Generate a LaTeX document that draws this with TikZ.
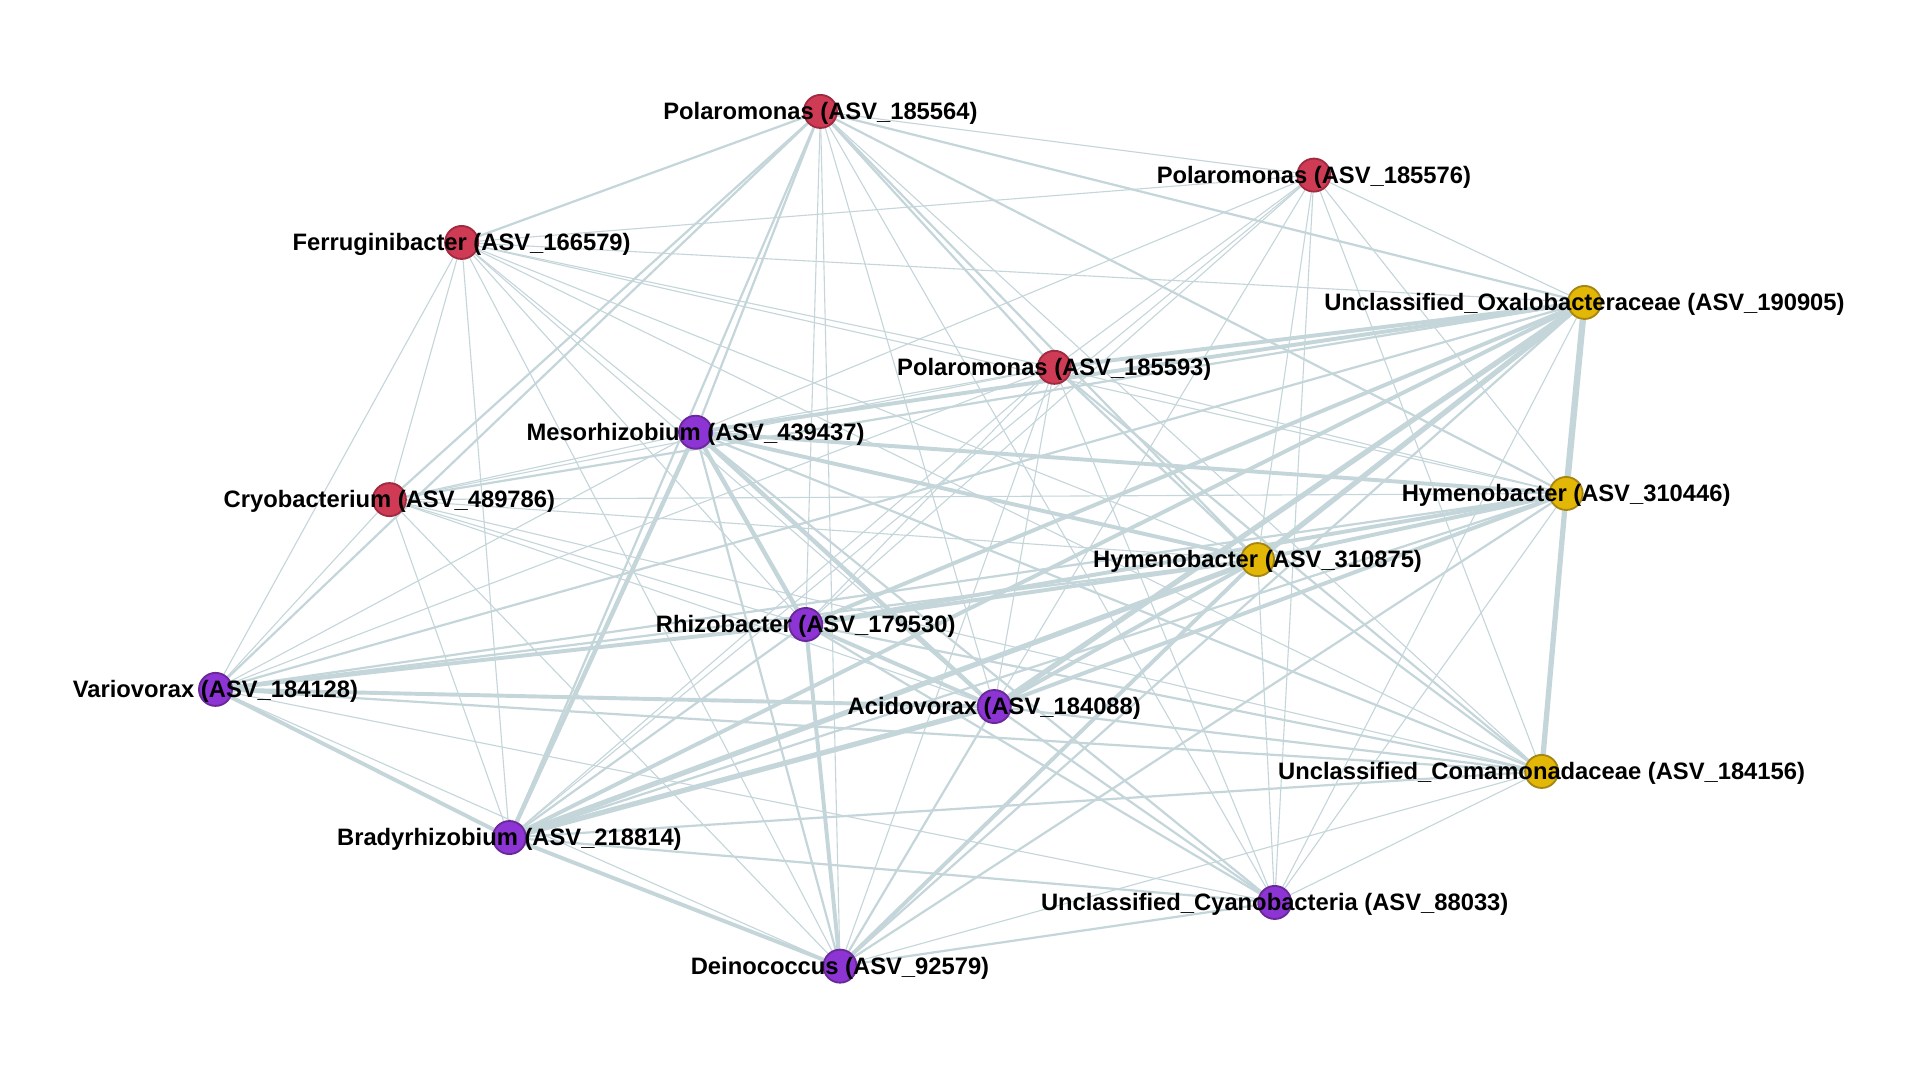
\documentclass[tikz,border=0pt]{standalone}
\usepackage{fontspec}
\setmainfont{Liberation Sans}
\pgfdeclarelayer{bgfill}
\pgfdeclarelayer{bg}
\pgfsetlayers{bgfill,bg,main}
\definecolor{edgec}{HTML}{C4D6DA}
\definecolor{redf}{HTML}{CF3B55}
\definecolor{redd}{HTML}{A02B40}
\definecolor{purf}{HTML}{8C34D4}
\definecolor{purd}{HTML}{6A2898}
\definecolor{yelf}{HTML}{E2B705}
\definecolor{yeld}{HTML}{A58615}
\tikzset{
  vtx/.style={circle,minimum size=27pt,inner sep=0pt,line width=1.5pt},
  rednode/.style={vtx,fill=redf,draw=redd},
  purnode/.style={vtx,fill=purf,draw=purd},
  yelnode/.style={vtx,fill=yelf,draw=yeld},
  lbl/.style={font=\bfseries\fontsize{19.4}{22}\selectfont,text=black,inner sep=0pt,yshift=-1.5pt},
  edge/.style={draw=edgec}
}
\begin{document}
\begin{tikzpicture}[x=1pt,y=-1pt]
\useasboundingbox (0,0) rectangle (1568,882);
\begin{pgfonlayer}{bgfill}
\fill[white] (0,0) rectangle (1568,882);
\end{pgfonlayer}
% nodes
\node[rednode] (a) at (670,91) {};
\node[rednode] (b) at (1073,143) {};
\node[rednode] (c) at (377,198) {};
\node[yelnode] (d) at (1294,247) {};
\node[rednode] (e) at (861,300) {};
\node[purnode] (f) at (568,353) {};
\node[rednode] (g) at (318,408) {};
\node[yelnode] (h) at (1279,403) {};
\node[yelnode] (i) at (1027,457) {};
\node[purnode] (j) at (658,510) {};
\node[purnode] (k) at (176,563) {};
\node[purnode] (l) at (812,577) {};
\node[yelnode] (m) at (1259,630) {};
\node[purnode] (n) at (416,684) {};
\node[purnode] (o) at (1041,737) {};
\node[purnode] (p) at (686,789) {};
% edges
\begin{pgfonlayer}{bg}
\foreach \u/\v/\w in {
a/b/0.9, a/c/1.8, a/d/1.8, a/e/1.8, a/f/1.8, a/g/1.8, a/h/1.8, a/i/1.8, a/j/0.9, a/k/1.8, a/l/0.9, a/m/0.9, a/n/1.8, a/o/0.9, a/p/0.9,
b/c/0.9, b/d/0.9, b/h/0.9, b/m/0.9, b/o/0.9, b/i/0.9, b/l/0.9, b/e/0.9, b/j/0.9, b/f/0.9, b/n/0.9,
c/d/0.9, c/e/0.9, c/f/0.9, c/g/0.9, c/h/0.9, c/i/0.9, c/j/0.9, c/k/0.9, c/l/0.9, c/n/0.9, c/p/0.9, c/m/0.9,
d/e/3.2, d/f/3.2, d/g/1.8, d/h/5.2, d/i/4.3, d/j/3.2, d/k/1.8, d/l/4.3, d/m/1.8, d/n/3.2, d/o/0.9, d/p/1.8,
e/f/0.9, e/g/0.9, e/h/0.9, e/i/1.8, e/j/0.9, e/k/0.9, e/l/0.9, e/m/1.8, e/n/0.9, e/o/0.9, e/p/0.9,
f/g/0.9, f/h/3.2, f/i/3.2, f/j/3.6, f/k/0.9, f/l/3.6, f/m/1.8, f/n/3.6, f/o/1.8, f/p/1.8,
g/h/0.9, g/i/0.9, g/j/0.9, g/k/0.9, g/l/0.9, g/m/0.9, g/n/0.9, g/p/0.9,
h/i/3.2, h/j/3.2, h/k/1.8, h/l/3.2, h/m/4.3, h/n/1.8, h/o/0.9, h/p/1.8,
i/j/3.2, i/k/1.8, i/l/3.2, i/m/1.8, i/n/4.3, i/o/0.9, i/p/3.2,
j/k/3.2, j/l/3.2, j/m/1.8, j/n/1.8, j/o/1.8, j/p/3.2,
k/l/3.2, k/m/1.8, k/n/3.2, k/o/0.9, k/p/0.9,
l/m/1.8, l/n/4.3, l/o/1.8, l/p/1.8,
m/n/1.8, m/o/0.9, m/p/0.9,
n/o/1.8, n/p/3.2,
o/p/1.8}
  \draw[edge,line width=\w pt] (\u) -- (\v);
\end{pgfonlayer}
% labels
\node[lbl] (la) at (a) {Polaromonas (ASV\_185564)};
\node[lbl] (lb) at (b) {Polaromonas (ASV\_185576)};
\node[lbl] (lc) at (c) {Ferruginibacter (ASV\_166579)};
\node[lbl] (ld) at (d) {Unclassified\_Oxalobacteraceae (ASV\_190905)};
\node[lbl] (le) at (e) {Polaromonas (ASV\_185593)};
\node[lbl] (lf) at (f) {Mesorhizobium (ASV\_439437)};
\node[lbl] (lg) at (g) {Cryobacterium (ASV\_489786)};
\node[lbl] (lh) at (h) {Hymenobacter (ASV\_310446)};
\node[lbl] (li) at (i) {Hymenobacter (ASV\_310875)};
\node[lbl] (lj) at (j) {Rhizobacter (ASV\_179530)};
\node[lbl] (lk) at (k) {Variovorax (ASV\_184128)};
\node[lbl] (ll) at (l) {Acidovorax (ASV\_184088)};
\node[lbl] (lm) at (m) {Unclassified\_Comamonadaceae (ASV\_184156)};
\node[lbl] (ln) at (n) {Bradyrhizobium (ASV\_218814)};
\node[lbl] (lo) at (o) {Unclassified\_Cyanobacteria (ASV\_88033)};
\node[lbl] (lp) at (p) {Deinococcus (ASV\_92579)};
\end{tikzpicture}
\end{document}
